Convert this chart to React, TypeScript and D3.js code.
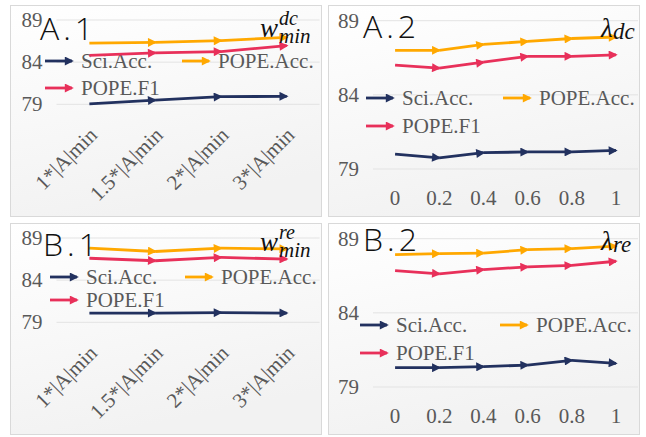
import * as d3 from "d3";

// x categories
const minLabels = ["1*|A|min", "1.5*|A|min", "2*|A|min", "3*|A|min"];
const lambdaLabels = ["0", "0.2", "0.4", "0.6", "0.8", "1"];
const yTicks = [79, 84, 89];

// A.1  (w_min^dc)
const a1Sci = [79.05, 79.5, 79.9, 79.95];
const a1Acc = [86.25, 86.35, 86.55, 86.95];
const a1F1 = [84.8, 85.1, 85.25, 85.95];

// A.2  (lambda_dc)
const a2Sci = [80.0, 79.75, 80.1, 80.15, 80.15, 80.25];
const a2Acc = [87.0, 87.0, 87.4, 87.6, 87.8, 87.9];
const a2F1 = [86.0, 85.8, 86.2, 86.6, 86.6, 86.7];

// B.1  (w_min^re)
const b1Sci = [80.1, 80.1, 80.15, 80.1];
const b1Acc = [87.8, 87.4, 87.8, 87.7];
const b1F1 = [86.6, 86.3, 86.7, 86.5];

// B.2  (lambda_re)
const b2Sci = [80.3, 80.3, 80.37, 80.48, 80.8, 80.6];
const b2Acc = [87.92, 87.99, 88.03, 88.26, 88.33, 88.5];
const b2F1 = [86.85, 86.63, 86.92, 87.1, 87.2, 87.48];

const seriesNames = ["Sci.Acc.", "POPE.Acc.", "POPE.F1"];
const colors = ["#22315f", "#ffa800", "#e8305a"];

const GREY = "#595959";
const serif = { fontFamily: '"Liberation Serif"' };

const panels = [
  {
    id: "a1", x: 10, y: 5, title: "A.1", kind: "min", cats: minLabels,
    data: [a1Sci, a1Acc, a1F1], titleXY: [30, 35],
    legend: { x1: 35, x2: 172, y1: 56, y2: 83 },
    math: { base: "w", sup: "dc", sub: "min", x: 250, y: 32 },
  },
  {
    id: "a2", x: 328, y: 5, title: "A.2", kind: "lambda", cats: lambdaLabels,
    data: [a2Sci, a2Acc, a2F1], titleXY: [35, 33],
    legend: { x1: 38, x2: 175, y1: 93, y2: 121 },
    math: { base: "\u03bb", sup: "", sub: "dc", x: 273, y: 32 },
  },
  {
    id: "b1", x: 10, y: 223, title: "B.1", kind: "min", cats: minLabels,
    data: [b1Sci, b1Acc, b1F1], titleXY: [33, 33],
    legend: { x1: 40, x2: 175, y1: 54, y2: 77 },
    math: { base: "w", sup: "re", sub: "min", x: 250, y: 28 },
  },
  {
    id: "b2", x: 328, y: 223, title: "B.2", kind: "lambda", cats: lambdaLabels,
    data: [b2Sci, b2Acc, b2F1], titleXY: [35, 28],
    legend: { x1: 32, x2: 172, y1: 102, y2: 130 },
    math: { base: "\u03bb", sup: "", sub: "re", x: 273, y: 27 },
  },
];

const ArrowLine = ({ x1, y1, x2, y2, ci }) => (
  <line x1={x1} y1={y1} x2={x2} y2={y2} stroke={colors[ci]} strokeWidth={2.8}
    markerEnd={`url(#arrow${ci})`} />
);

const Panel = ({ p }) => {
  const w = 312, h = 212;
  const isMin = p.kind === "min";
  const left = isMin ? 46.5 : 45;
  const right = isMin ? 309.6 : 310;
  const top = isMin ? 15 : 15.7;
  const bottom = isMin ? 99.3 : 164;

  const x = d3.scaleBand().domain(p.cats).range([left, right]);
  const y = d3.scaleLinear().domain([79, 89]).range([bottom, top]);
  const cx = (c) => x(c) + x.bandwidth() / 2;

  const L = p.legend;
  const legendItems = [
    { ci: 0, ax: L.x1, ay: L.y1 },
    { ci: 1, ax: L.x2, ay: L.y1 },
    { ci: 2, ax: L.x1, ay: L.y2 },
  ];

  return (
    <g transform={`translate(${p.x},${p.y})`}>
      <rect x={0.5} y={0.5} width={w - 1} height={h - 1} fill="url(#bg)" stroke="#d9d9d9" />
      {yTicks.map((t) => (
        <g key={t}>
          <line x1={left} x2={right} y1={y(t)} y2={y(t)} stroke="#e3e3e3" strokeWidth={1} />
          <text x={left - 14} y={y(t) + 7} textAnchor="end" style={serif} fontSize={21} fill={GREY}>{t}</text>
        </g>
      ))}
      {p.cats.map((c) =>
        isMin ? (
          <text key={c} transform={`translate(${cx(c) + 9},${bottom + 32}) rotate(-45)`} textAnchor="end"
            style={serif} fontSize={21} fill={GREY}>{c}</text>
        ) : (
          <text key={c} x={cx(c)} y={bottom + 36} textAnchor="middle" style={serif} fontSize={21} fill={GREY}>{c}</text>
        )
      )}
      {legendItems.map((it) => (
        <g key={it.ci}>
          <ArrowLine x1={it.ax} y1={it.ay} x2={it.ax + 27} y2={it.ay} ci={it.ci} />
          <text x={it.ax + 36} y={it.ay + 7} style={serif} fontSize={21} fill={GREY}>{seriesNames[it.ci]}</text>
        </g>
      ))}
      {p.data.map((vals, ci) => (
        <g key={ci}>
          {vals.slice(1).map((v, i) => (
            <ArrowLine key={i} x1={cx(p.cats[i])} y1={y(vals[i])} x2={cx(p.cats[i + 1])} y2={y(v)} ci={ci} />
          ))}
        </g>
      ))}
      <text x={p.titleXY[0]} y={p.titleXY[1]} style={{ fontFamily: '"Open Sans"', fontWeight: 300 }}
        fontSize={32} fill="#111" letterSpacing={4}>{p.title}</text>
      <g style={{ fontFamily: '"Liberation Serif"', fontStyle: "italic" }} fill="#111">
        <text x={p.math.x} y={p.math.y} fontSize={27}>{p.math.base}</text>
        {p.math.sup && <text x={p.math.x + 19} y={p.math.y - 12} fontSize={20}>{p.math.sup}</text>}
        <text x={p.math.x + (p.math.sup ? 19 : 12)} y={p.math.y + (p.math.sup ? 6 : 2)} fontSize={p.math.sup ? 21 : 23}>{p.math.sub}</text>
      </g>
    </g>
  );
};

export default function App() {
  return (
    <svg width={646} height={437} style={{ position: "absolute", left: 0, top: 0, background: "#fff" }}>
      <defs>
        <linearGradient id="bg" x1="0" y1="0" x2="0.3" y2="1">
          <stop offset="0" stopColor="#ffffff" />
          <stop offset="1" stopColor="#f2f2f2" />
        </linearGradient>
        {colors.map((c, i) => (
          <marker key={i} id={`arrow${i}`} viewBox="0 0 10 10" refX={8} refY={5} markerUnits="userSpaceOnUse"
            markerWidth={11} markerHeight={9} orient="auto">
            <path d="M0,0 L10,5 L0,10 z" fill={c} />
          </marker>
        ))}
      </defs>
      {panels.map((p) => (
        <Panel key={p.id} p={p} />
      ))}
    </svg>
  );
}
